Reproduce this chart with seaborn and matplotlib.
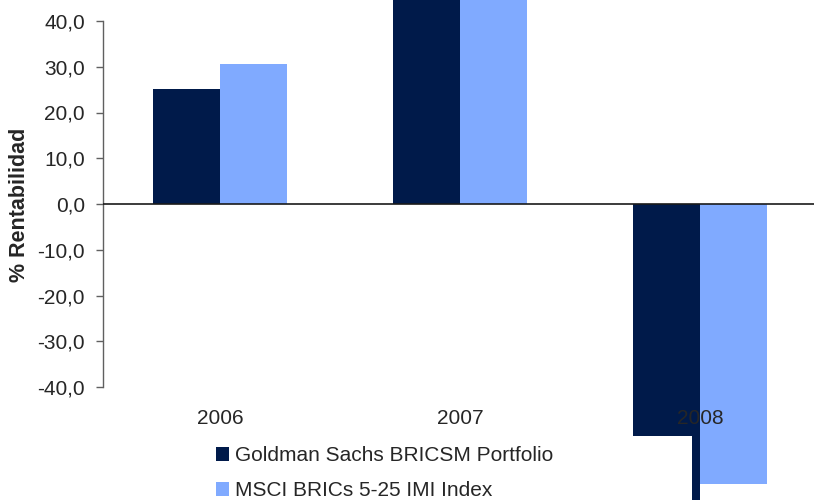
import matplotlib
matplotlib.use('Agg')
import matplotlib.pyplot as plt
import seaborn as sns
import pandas as pd

years = ['2006', '2007', '2008']
series_names = ['Goldman Sachs BRICSM Portfolio', 'MSCI BRICs 5-25 IMI Index']
goldman = [25.1, 53.0, -67.0]
msci = [30.6, 56.0, -61.2]
ytick_values = [-40, -30, -20, -10, 0, 10, 20, 30, 40]
ytick_labels = ['-40,0', '-30,0', '-20,0', '-10,0', '0,0', '10,0', '20,0', '30,0', '40,0']

dark = '#001A4A'
light = '#80AAFF'

sns.set_style('white')
plt.rcParams['font.family'] = ['Liberation Sans', 'DejaVu Sans']

fig = plt.figure(figsize=(8.14, 5), dpi=100)
ax = fig.add_axes([103 / 814, (500 - 387) / 500, (814 - 103) / 814, (387 - 21) / 500])

df = pd.DataFrame({
    'year': years * 2,
    'value': goldman + msci,
    'series': [series_names[0]] * 3 + [series_names[1]] * 3,
})
sns.barplot(data=df, x='year', y='value', hue='series', palette=[dark, light],
            width=0.555, saturation=1, ax=ax, errorbar=None, linewidth=0)
for p in ax.patches:
    p.set_clip_on(False)

ax.set_xlim(-0.4875, 2.475)
ax.set_ylim(-40, 40)
ax.set_yticks(ytick_values)
ax.set_yticklabels(ytick_labels)
for s in ['top', 'right', 'bottom']:
    ax.spines[s].set_visible(False)
ax.spines['left'].set_color('#606060')
ax.spines['left'].set_linewidth(1)
ax.axhline(0, color='#1a1a1a', lw=1.2, zorder=3)

ax.tick_params(axis='y', length=5, width=1, color='#606060', pad=8, labelsize=15, left=True)
ax.tick_params(axis='x', length=0, pad=16, labelsize=15)
ax.xaxis.set_zorder(6)
ax.set_xlabel('')
ax.set_ylabel('% Rentabilidad', fontweight='bold', fontsize=15.5)
ax.yaxis.set_label_coords((30 - 103) / 711, 0.497)

handles, labels = ax.get_legend_handles_labels()
ax.get_legend().remove()
fig.legend(handles, labels, loc='upper left',
           bbox_to_anchor=(206 / 814, 0, (692 - 206) / 814, 64 / 500),
           mode='expand', borderaxespad=0, frameon=True, facecolor='white',
           edgecolor='none', framealpha=1, fancybox=False, fontsize=15,
           handlelength=0.6, handleheight=0.65, handletextpad=0.3,
           labelspacing=0.76, borderpad=0.5)

fig.savefig('out.png', dpi=100)
